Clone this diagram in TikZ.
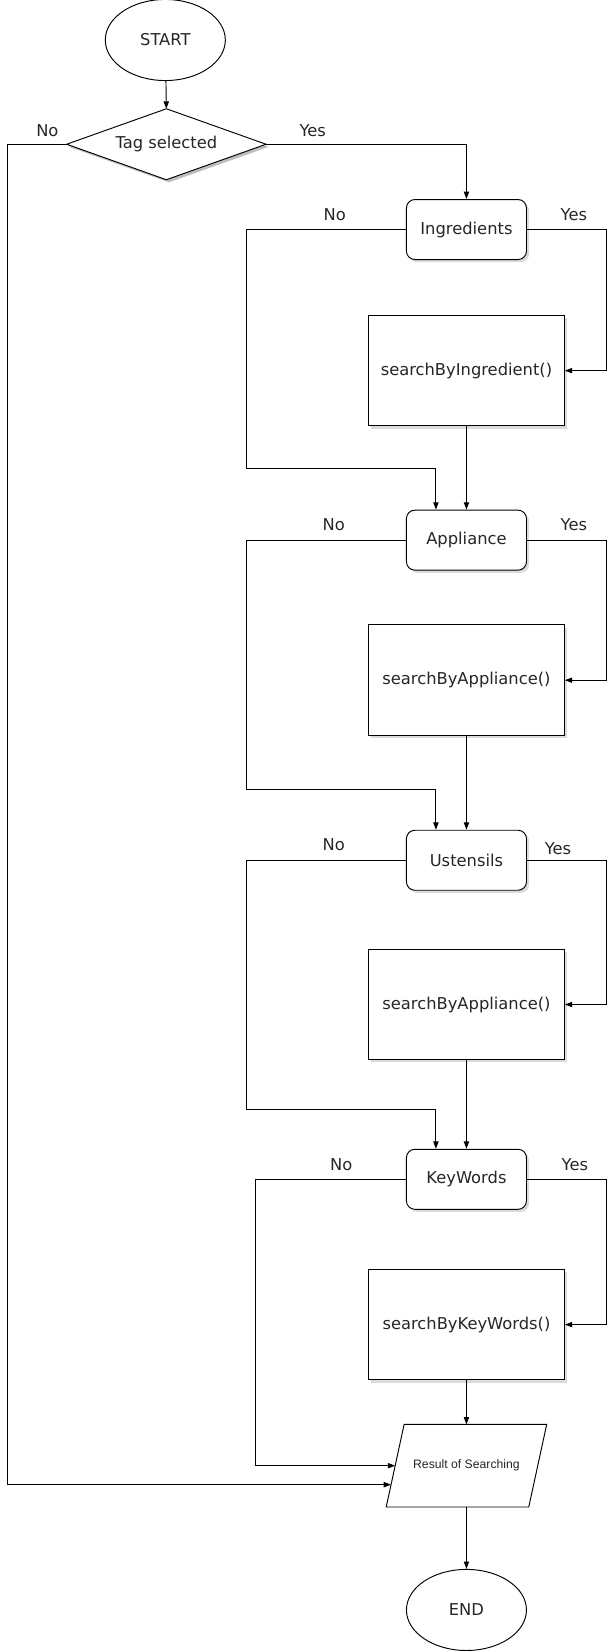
\documentclass[tikz,border=0pt]{standalone}
\usepackage{fontspec}
\setmainfont{DejaVu Sans}
\newfontfamily\smallsans{Liberation Sans}
\usetikzlibrary{arrows.meta,shapes.geometric,shadows,calc,backgrounds}

\begin{document}
\begin{tikzpicture}[x=1pt,y=-1pt,
  every node/.style={font=\fontsize{15.5}{18}\selectfont, text=black!85},
  line/.style={line width=0.9pt},
  arr/.style={line, -{Triangle[length=7pt,width=5pt]}},
  softshadow/.style={drop shadow={shadow xshift=2.5pt,shadow yshift=-2.5pt,fill=black!28}},
  terminal/.style={ellipse, draw, line width=0.9pt, minimum width=114pt, minimum height=77pt, inner sep=0pt},
  choice/.style={rectangle, draw, rounded corners=8pt, line width=0.9pt, minimum width=114pt, minimum height=57pt, fill=white, softshadow},
  process/.style={rectangle, draw, line width=0.9pt, minimum width=186pt, minimum height=105pt, fill=white, softshadow},
  lbl/.style={inner sep=0pt}
]
\useasboundingbox (0,0) rectangle (584,1568);

% terminals and decision
\node[terminal] (start) at (157,38) {START};
\node[inner sep=0pt, minimum width=189pt, minimum height=67pt] (tag) at (158,137) {Tag selected};
\begin{scope}[on background layer]
  \fill[black!25] ([shift={(2.5,2.5)}]tag.north) -- ([shift={(2.5,2.5)}]tag.east)
    -- ([shift={(2.5,2.5)}]tag.south) -- ([shift={(2.5,2.5)}]tag.west) -- cycle;
  \filldraw[line, fill=white] (tag.north) -- (tag.east) -- (tag.south) -- (tag.west) -- cycle;
\end{scope}

% tag filters and their search steps
\node[choice]  (ingr) at (443,218)  {Ingredients};
\node[process] (sbi)  at (443,352)  {searchByIngredient()};
\node[choice]  (appl) at (443,513)  {Appliance};
\node[process] (sba)  at (443,646)  {searchByAppliance()};
\node[choice]  (ust)  at (443,817)  {Ustensils};
\node[process] (sbu)  at (443,954)  {searchByAppliance()};
\node[choice]  (kw)   at (443,1120) {KeyWords};
\node[process] (sbk)  at (443,1258) {searchByKeyWords()};

% result (parallelogram) and end
\node[inner sep=0pt, minimum width=135pt, minimum height=78pt,
      font=\smallsans\fontsize{11.6}{14}\selectfont] (res) at (443,1392) {Result of Searching};
\draw[line] ($(res.north west)+(8.5,0)$) -- ($(res.north east)+(8.5,0)$)
  -- ($(res.south east)+(-8.5,0)$) -- ($(res.south west)+(-8.5,0)$) -- cycle;
\coordinate (resTag) at ($(res.west)+(-3.9,18)$);
\node[terminal] (end) at (443,1529) {END};

% connectors
\draw[arr] (start) -- (tag.north);
\draw[arr] (tag.west) -- (7,137) |- (resTag);
\draw[arr] (tag.east) -| (ingr.north);

\draw[arr] (ingr.east) -- (576,218) |- (sbi.east);
\draw[arr] (ingr.west) -| (234,445) -| ($(appl.north)+(-29,0)$);
\draw[arr] (sbi.south) -- (appl.north);

\draw[arr] (appl.east) -- (576,513) |- (sba.east);
\draw[arr] (appl.west) -| (234,750) -| ($(ust.north)+(-29,0)$);
\draw[arr] (sba.south) -- (ust.north);

\draw[arr] (ust.east) -- (576,817) |- (sbu.east);
\draw[arr] (ust.west) -| (234,1054) -| ($(kw.north)+(-29,0)$);
\draw[arr] (sbu.south) -- (kw.north);

\draw[arr] (kw.east) -- (576,1120) |- (sbk.east);
\draw[arr] (kw.west) -- (243,1120) |- (res.west);
\draw[arr] (sbk.south) -- (res.north);
\draw[arr] (res.south) -- (end.north);

% branch labels
\node[lbl] at (45,124)   {No};
\node[lbl] at (297,124)  {Yes};
\node[lbl] at (318,204)  {No};
\node[lbl] at (545,204)  {Yes};
\node[lbl] at (317,498)  {No};
\node[lbl] at (545,498)  {Yes};
\node[lbl] at (317,802)  {No};
\node[lbl] at (530,806)  {Yes};
\node[lbl] at (324,1106) {No};
\node[lbl] at (546,1106) {Yes};
\end{tikzpicture}
\end{document}
